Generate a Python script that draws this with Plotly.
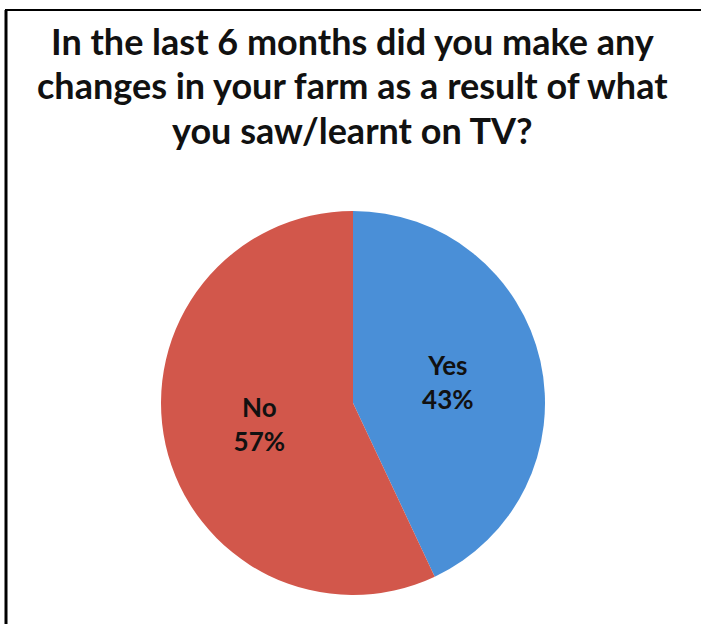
import plotly.graph_objects as go

labels = ["Yes", "No"]
values = [43, 57]
colors = ["#4a8fd7", "#d2574b"]
title_lines = [
    "In the last 6 months did you make any",
    "changes in your farm as a result of what",
    "you saw/learnt on TV?",
]

W, H = 701, 624

fig = go.Figure(go.Pie(
    labels=labels,
    values=values,
    sort=False,
    direction="clockwise",
    rotation=0,
    marker=dict(colors=colors, line=dict(width=0)),
    texttemplate="<b>%{label}<br>%{percent:.0%}</b>",
    textposition="inside",
    insidetextorientation="horizontal",
    textfont=dict(family="Lato", size=26, color="#111111"),
    showlegend=False,
    hoverinfo="label+percent",
    domain=dict(x=[161 / W, 545 / W], y=[(H - 595) / H, (H - 211) / H]),
))

title_centers = [41, 85, 130]
for line, yc in zip(title_lines, title_centers):
    fig.add_annotation(
        text="<b>" + line + "</b>",
        xref="paper", yref="paper", x=352 / W, y=1 - yc / H,
        xanchor="center", yanchor="middle", showarrow=False,
        font=dict(family="Lato", size=36, color="#111111"),
    )

fig.add_shape(type="line", xref="paper", yref="paper",
              x0=6 / W, x1=6 / W, y0=0, y1=1 - 10 / H,
              line=dict(color="black", width=3))
fig.add_shape(type="line", xref="paper", yref="paper",
              x0=5 / W, x1=1, y0=1 - 10 / H, y1=1 - 10 / H,
              line=dict(color="black", width=2))

fig.update_layout(
    width=W, height=H,
    margin=dict(l=0, r=0, t=0, b=0),
    paper_bgcolor="white", plot_bgcolor="white",
)

fig.write_html(
    "out.html",
    config={"displayModeBar": False},
    post_script="document.body.style.margin='0';document.body.style.overflow='hidden';",
)
